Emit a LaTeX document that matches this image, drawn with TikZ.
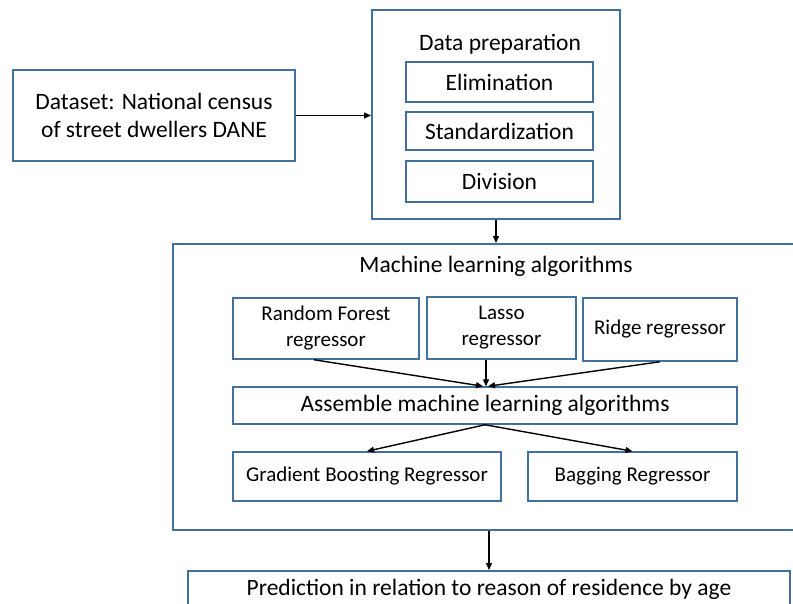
\documentclass[tikz,border=0pt]{standalone}
\usepackage{fontspec}
\setmainfont{Carlito}
\usetikzlibrary{arrows.meta,calc}
\definecolor{boxblue}{HTML}{41719C}
\begin{document}
\begin{tikzpicture}[x=1pt,y=-1pt,
  box/.style={draw=boxblue,line width=1.5pt,rectangle,inner sep=0pt,align=center,
    font=\fontsize{23.5}{28}\selectfont},
  outerbox/.style={box,line width=2pt},
  mlbox/.style={box,font=\fontsize{21}{26}\selectfont},
  conn/.style={draw=black,line width=1.4pt,-{Triangle[length=7pt,width=6pt]}},
  lbl/.style={inner sep=0pt,font=\fontsize{23.5}{28}\selectfont}]
\useasboundingbox (0,0) rectangle (793,603);
% top row
\node[outerbox,minimum width=282,minimum height=91] (ds) at (154,115.5)
  {Dataset: National census\\of street dwellers DANE};
\node[outerbox,minimum width=248,minimum height=209] (dp) at (496,114.5) {};
\node[lbl,anchor=base] (dpt) at (500,50) {Data preparation};
\node[box,minimum width=187,minimum height=40] (el) at (499.5,82) {Elimination};
\node[box,minimum width=187,minimum height=38] (st) at (499.5,131) {Standardization};
\node[box,minimum width=187,minimum height=41] (dv) at (499.5,181.5) {Division};
% machine learning block
\node[outerbox,minimum width=637,minimum height=286] (ml) at (491.5,387) {};
\node[lbl,anchor=base] (mlt) at (496,272) {Machine learning algorithms};
\node[mlbox,minimum width=186,minimum height=61] (rf) at (326,328.5) {Random Forest\\regressor};
\node[mlbox,minimum width=149,minimum height=62] (lasso) at (501.5,328) {Lasso\\regressor};
\node[mlbox,minimum width=154,minimum height=63] (ridge) at (660,329.5) {Ridge regressor};
\node[box,minimum width=504,minimum height=37] (asm) at (485,405.5) {Assemble machine learning algorithms};
\node[mlbox,minimum width=268,minimum height=49] (gb) at (367,476.5) {Gradient Boosting Regressor};
\node[mlbox,minimum width=209,minimum height=49] (bag) at (632.5,476.5) {Bagging Regressor};
% prediction
\node[outerbox,minimum width=602,minimum height=37] (pred) at (489,589.5)
  {Prediction in relation to reason of residence by age};
% connectors
\draw[conn] (ds.east) -- (ds.east -| dp.west);
\draw[conn] (dp.south) -- (dp.south |- ml.north);
\draw[conn] ($(rf.south)+(-12,0)$) -- ($(asm.north)+(-2,0)$);
\draw[conn] ($(lasso.south -| asm.north)+(1,0)$) -- ($(asm.north)+(1,0)$);
\draw[conn] (ridge.south) -- ($(asm.north)+(3,0)$);
\draw[conn] (asm.south) -- (gb.north);
\draw[conn] (asm.south) -- (bag.north);
\draw[conn] (pred.north |- ml.south) -- (pred.north);
\end{tikzpicture}
\end{document}
